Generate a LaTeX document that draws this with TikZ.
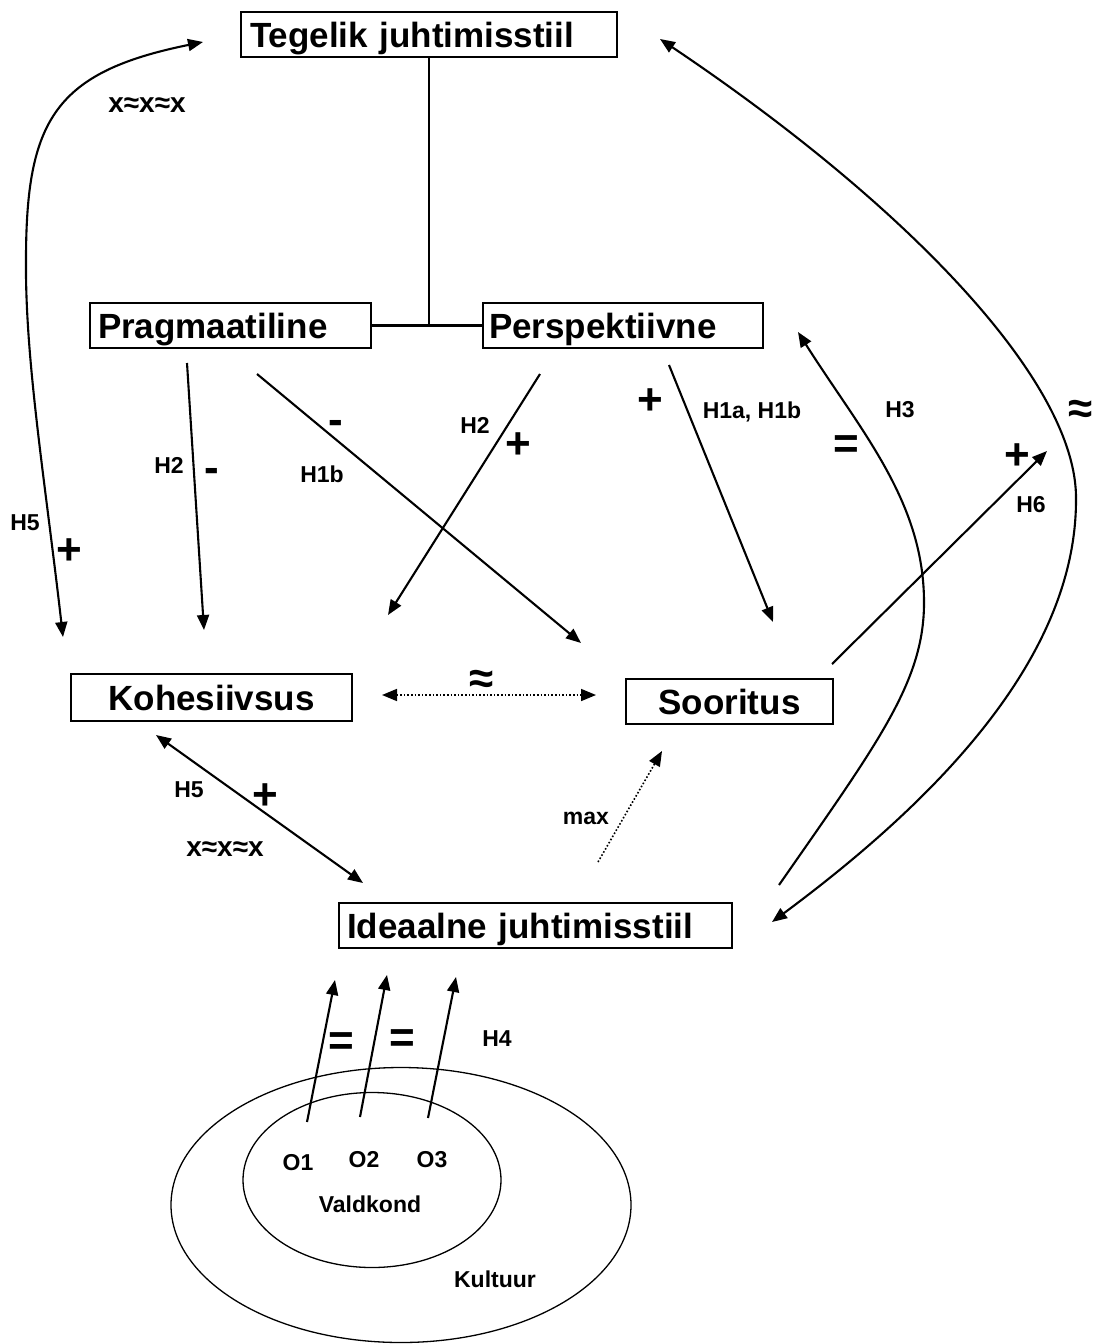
\documentclass[tikz,border=0pt]{standalone}
\usepackage{fontspec}
\setmainfont{Liberation Sans}
\usetikzlibrary{arrows.meta,shapes.geometric}
\begin{document}
\begin{tikzpicture}[x=1pt,y=-1pt,
  box/.style={draw,line width=1.5pt,font=\fontsize{35}{40}\selectfont\bfseries,text height=25pt,text depth=0pt,inner ysep=0pt,minimum height=45pt},
  sign/.style={font=\fontsize{44}{48}\selectfont\bfseries,inner sep=0pt},
  lab/.style={font=\fontsize{23}{26}\selectfont\bfseries,inner sep=0pt},
  xx/.style={font=\fontsize{28}{32}\selectfont\bfseries,inner sep=0pt},
  arr/.style={line width=2.1pt,-{Triangle[length=15pt,width=12pt]}},
  dbl/.style={line width=2.1pt,{Triangle[length=15pt,width=12pt]}-{Triangle[length=15pt,width=12pt]}},
  dotarr/.style={line width=1.6pt,dotted,-{Triangle[length=15pt,width=12pt]}},
  dotdbl/.style={line width=1.6pt,dotted,{Triangle[length=15pt,width=12pt]}-{Triangle[length=15pt,width=12pt]}},
  ring/.style={draw,ellipse,line width=1.3pt,inner sep=0pt}
]
\useasboundingbox (0,0) rectangle (1097,1344);

% boxes
\node[box,text width=358pt,align=left,inner xsep=9pt] (teg) at (429,34.5) {Tegelik juhtimisstiil};
\node[box,text width=265pt,align=left,inner xsep=8pt] (prag) at (230.5,325.5) {Pragmaatiline};
\node[box,text width=268pt,align=left,inner xsep=6pt] (persp) at (623,325.5) {Perspektiivne};
\node[box,minimum width=281pt,minimum height=47pt] (koh) at (211.5,697.5) {Kohesiivsus};
\node[box,minimum width=207pt] (soor) at (729.5,701.5) {Sooritus};
\node[box,text width=377pt,align=left,inner xsep=8pt] (ide) at (535.5,925.5) {Ideaalne juhtimisstiil};

% ellipses
\node[ring,minimum width=460pt,minimum height=275pt] (kult) at (401,1205) {};
\node[ring,minimum width=258pt,minimum height=175pt] (vald) at (372,1180) {};

% tree connector
\draw[line width=2.6pt] (teg.south) -- (teg.south |- prag.east);
\draw[line width=2.6pt] (prag.east) -- (persp.west);

% coordinates for free ends
\coordinate (h5a) at (63,637);
\coordinate (h5b) at (203,42);
\coordinate (apt) at (660,39);
\coordinate (apb) at (772,922);
\coordinate (h3s) at (779,885);
\coordinate (h3e) at (798,332);
\coordinate (p2s) at (187,363);
\coordinate (p2e) at (204,630);
\coordinate (p1s) at (257,374);
\coordinate (p1e) at (581,643);
\coordinate (q2s) at (540,374);
\coordinate (q2e) at (388,615);
\coordinate (q1s) at (669,365);
\coordinate (q1e) at (773,622);
\coordinate (h6s) at (832,664);
\coordinate (h6e) at (1047,451);
\coordinate (k5a) at (156,735);
\coordinate (k5b) at (363,883);
\coordinate (dda) at (382,695);
\coordinate (ddb) at (596,695);
\coordinate (mxs) at (598,862);
\coordinate (mxe) at (662,751);
\coordinate (o1s) at (307,1122);
\coordinate (o1e) at (335,980);
\coordinate (o2s) at (360,1117);
\coordinate (o2e) at (387,975);
\coordinate (o3s) at (428,1118);
\coordinate (o3e) at (456,977);

% connectors
\draw[dbl] (h5a) .. controls (45,480) and (25,360) .. (26,260) .. controls (26,120) and (55,72) .. (h5b);
\draw[dbl] (apt) .. controls (900,200) and (1078,380) .. (1076,500) .. controls (1076,650) and (950,790) .. (apb);
\draw[arr] (h3s) .. controls (880,740) and (925,680) .. (924,600) .. controls (923,500) and (860,430) .. (h3e);
\draw[arr] (p2s) -- (p2e);
\draw[arr] (p1s) -- (p1e);
\draw[arr] (q2s) -- (q2e);
\draw[arr] (q1s) -- (q1e);
\draw[arr] (h6s) -- (h6e);
\draw[dbl] (k5a) -- (k5b);
\draw[dotdbl] (dda) -- (ddb);
\draw[dotarr] (mxs) -- (mxe);
\draw[arr] (o1s) -- (o1e);
\draw[arr] (o2s) -- (o2e);
\draw[arr] (o3s) -- (o3e);

% labels
\node[xx] (l1) at (147,105) {x≈x≈x};
\node[lab] (l2) at (25,523) {H5};
\node[sign] (l3) at (69,552) {+};
\node[lab] (l4) at (169,465) {H2};
\node[sign] (l5) at (212,475) {-};
\node[sign] (l6) at (336,427) {-};
\node[lab] (l7) at (322,474) {H1b};
\node[lab] (l8) at (475,425) {H2};
\node[sign] (l9) at (518,446) {+};
\node[sign] (l10) at (650,402) {+};
\node[lab] (l11) at (752,412) {H1a, H1b};
\node[lab] (l12) at (900,410) {H3};
\node[sign] (l13) at (846,447) {=};
\node[sign] (l14) at (1017,457) {+};
\node[lab] (l15) at (1031,505) {H6};
\node[sign] (l16) at (1081,412) {≈};
\node[sign] (l17) at (482,682) {≈};
\node[lab] (l18) at (189,790) {H5};
\node[sign] (l19) at (265,797) {+};
\node[xx] (l20) at (225,849) {x≈x≈x};
\node[lab] (l21) at (586,818) {max};
\node[sign] (l22) at (341,1044) {=};
\node[sign] (l23) at (402,1041) {=};
\node[lab] (l24) at (497,1039) {H4};
\node[lab] (l25) at (298,1163) {O1};
\node[lab] (l26) at (364,1160) {O2};
\node[lab] (l27) at (432,1160) {O3};
\node[lab] (l28) at (370,1204) {Valdkond};
\node[lab] (l29) at (495,1279) {Kultuur};
\end{tikzpicture}
\end{document}
